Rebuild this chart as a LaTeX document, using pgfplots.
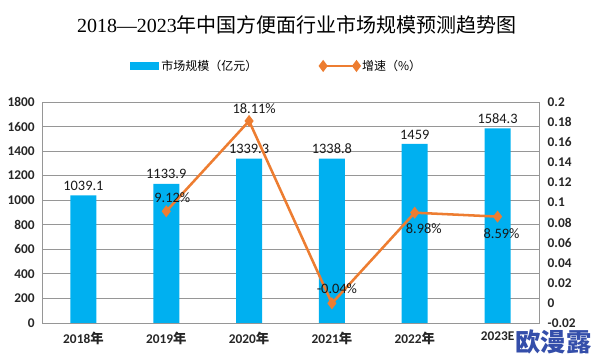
\documentclass[border=0pt]{standalone}
\usepackage{pgfplots}
\pgfplotsset{compat=1.18}
\usepackage{fontspec}
\setmainfont{Carlito}
\newfontfamily\cjk{Noto Sans CJK SC}
\newfontfamily\serif{Liberation Serif}
\definecolor{barblue}{RGB}{0,176,240}
\definecolor{lineorange}{RGB}{237,125,49}
\definecolor{gridgray}{RGB}{150,150,150}
\definecolor{wm}{RGB}{52,78,170}
\begin{document}
\begin{tikzpicture}
\path (0,0) rectangle (445.5pt,272.25pt);
\node[font=\fontsize{15}{17}\selectfont] at (222.75pt,253.5pt) {{\serif 2018—2023}{\cjk 年中国方便面行业市场规模预测趋势图}};
\begin{axis}[
  at={(31.5pt,30pt)}, anchor=south west, scale only axis,
  width=372.75pt, height=165.75pt,
  xmin=-0.5, xmax=5.5, ymin=0, ymax=1800,
  ytick={0,200,400,600,800,1000,1200,1400,1600,1800},
  yticklabels={0,200,400,600,800,1000,1200,1400,1600,1800},
  xtick={0,1,2,3,4,5},
  xticklabels={{2018{\cjk 年}},{2019{\cjk 年}},{2020{\cjk 年}},{2021{\cjk 年}},{2022{\cjk 年}},{2023E}},
  ybar, bar width=19.5pt,
  ymajorgrids, grid style={gridgray, line width=0.6pt},
  axis line style={gridgray, line width=0.6pt},
  major tick length=0pt,
  ticklabel style={font=\bfseries\fontsize{10}{12}\selectfont, text=black!85},
  xticklabel style={yshift=-3pt},
  yticklabel style={xshift=-2pt},
  point meta=explicit symbolic,
  nodes near coords,
  nodes near coords style={font=\fontsize{10.8}{12}\selectfont, text=black!90},
]
\addplot[fill=barblue, draw=none] coordinates {
  (0,1039.1) [1039.1]
  (1,1133.9) [1133.9]
  (2,1339.3) [1339.3]
  (3,1338.8) [1338.8]
  (4,1459) [1459]
  (5,1584.3) [1584.3]
};
\end{axis}
\begin{axis}[
  at={(31.5pt,30pt)}, anchor=south west, scale only axis,
  width=372.75pt, height=165.75pt,
  xmin=-0.5, xmax=5.5, ymin=-0.02, ymax=0.2,
  axis y line*=right, axis x line=none,
  axis line style={gridgray, line width=0.6pt},
  ytick={-0.02,0,0.02,0.04,0.06,0.08,0.1,0.12,0.14,0.16,0.18,0.2},
  yticklabels={-0.02,0,0.02,0.04,0.06,0.08,0.1,0.12,0.14,0.16,0.18,0.2},
  major tick length=0pt,
  ticklabel style={font=\bfseries\fontsize{10}{12}\selectfont, text=black!85},
  yticklabel style={xshift=3pt},
  legend style={at={(0.473,1.163)}, anchor=center, draw=none, fill=none,
    font=\cjk\fontsize{9}{11}\selectfont},
  legend columns=2,
  legend cell align=left,
  /tikz/every even column/.append style={column sep=45pt},
]
\addlegendimage{legend image code/.code={\fill[barblue] (0pt,-2.8pt) rectangle (21pt,2.8pt);}}
\addlegendentry{市场规模（亿元）}
\addplot[lineorange, line width=1.9pt, mark=diamond*, mark size=3pt,
  legend image code/.code={\draw plot coordinates {(0pt,0pt) (25pt,0pt)};}] coordinates {
  (1,0.0912) (2,0.1811) (3,-0.0004) (4,0.0898) (5,0.0859)
};
\addlegendentry{增速（\%）}
\node[font=\fontsize{10.8}{12}\selectfont, text=black!90] at (axis cs:1,0.0912) [xshift=4.5pt, yshift=10.5pt] {9.12\%};
\node[font=\fontsize{10.8}{12}\selectfont, text=black!90] at (axis cs:2,0.1811) [xshift=3.75pt, yshift=9.5pt] {18.11\%};
\node[font=\fontsize{10.8}{12}\selectfont, text=black!90] at (axis cs:3,-0.0004) [xshift=3.75pt, yshift=11pt] {-0.04\%};
\node[font=\fontsize{10.8}{12}\selectfont, text=black!90] at (axis cs:4,0.0898) [xshift=6.75pt, yshift=-12pt] {8.98\%};
\node[font=\fontsize{10.8}{12}\selectfont, text=black!90] at (axis cs:5,0.0859) [xshift=3pt, yshift=-13pt] {8.59\%};
\end{axis}
\node[font=\cjk\bfseries\fontsize{19}{20}\selectfont, text=wm, fill=white, inner sep=0pt] at (415pt,15.75pt) {欧漫露};
\end{tikzpicture}
\end{document}
